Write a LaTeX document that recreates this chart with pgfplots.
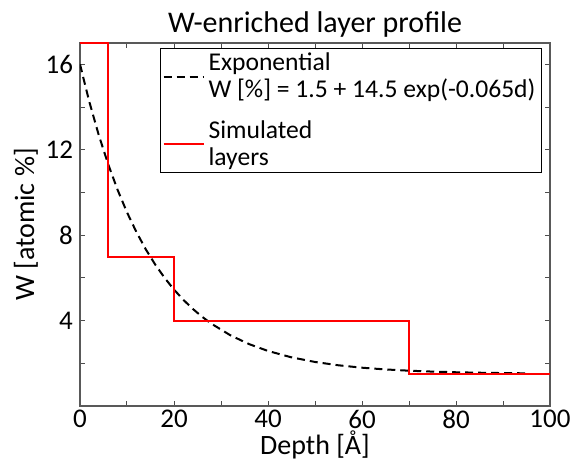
\documentclass[border=0pt]{standalone}
\usepackage{pgfplots}
\pgfplotsset{compat=1.18}
\usetikzlibrary{calc}
\usepackage{fontspec}
\setmainfont{Carlito}
\begin{document}
\begin{tikzpicture}
\begin{axis}[
  scale only axis,
  width=235pt, height=181.5pt,
  xmin=0, xmax=100, ymin=0, ymax=17,
  xtick={0,20,40,60,80,100},
  minor xtick={10,30,50,70,90},
  ytick={0,4,8,12,16},
  yticklabels={,4,8,12,16},
  minor ytick={2,6,10,14},
  tick align=inside,
  major tick length=2.5pt, minor tick length=2.5pt,
  axis line style={black!65, line width=0.8pt},
  tick style={black!70, line width=0.5pt},
  every tick label/.append style={font=\fontsize{13.5}{15}\selectfont},
  xticklabel style={yshift=1.5pt},
  /pgf/number format/assume math mode=true,
  title={W-enriched layer profile},
  title style={font=\fontsize{15}{17}\selectfont, at={(axis description cs:0.5,1.052)}, anchor=center, yshift=-6pt},
  xlabel={Depth [Å]},
  ylabel={W [atomic \%]},
  label style={font=\fontsize{14}{16}\selectfont},
  xlabel style={at={(axis description cs:0.5,-0.106)}, anchor=center, inner sep=0pt},
  ylabel style={at={(axis description cs:-0.115,0.5)}, anchor=center},
  legend style={at={(0.983,0.986)}, anchor=north east, draw=black, line width=0.6pt,
    font=\fontsize{12.8}{13.5}\selectfont, cells={align=left, anchor=west},
    row sep=6pt, inner xsep=1pt, inner ysep=0pt},
  legend image code/.code={\draw[#1] (0pt,0pt) -- (20pt,0pt);},
  legend image post style={line width=1pt},
  legend cell align=left,
]
\addplot[black, dashed, dash pattern=on 4pt off 2.5pt, line width=1pt] coordinates {
(0,16.0) (2,14.233) (4,12.681) (6,11.318) (8,10.121) (10,9.069) (12,8.147) (14,7.336)
(16,6.625) (18,6.001) (20,5.452) (22,4.97) (24,4.547) (26,4.176) (28,3.849) (32,3.311) (36,2.896)
(40,2.577) (45,2.278) (50,2.062) (55,1.906) (60,1.793) (65,1.712) (70,1.653)
(75,1.611) (80,1.580) (85,1.558) (90,1.542) (95,1.530)};
\addlegendentry{Exponential\\W [\%] = 1.5 + 14.5 exp(-0.065d)}
\addplot[red, line width=1pt, const plot] coordinates {
(0,17) (6,7) (20,4) (70,1.5) (100,1.5)};
\addlegendentry{Simulated\\layers}
\end{axis}
\pgfresetboundingbox
\useasboundingbox ($(current axis.south west)+(-40pt,-26.5pt)$) rectangle ($(current axis.north east)+(11pt,21.5pt)$);
\end{tikzpicture}
\end{document}
